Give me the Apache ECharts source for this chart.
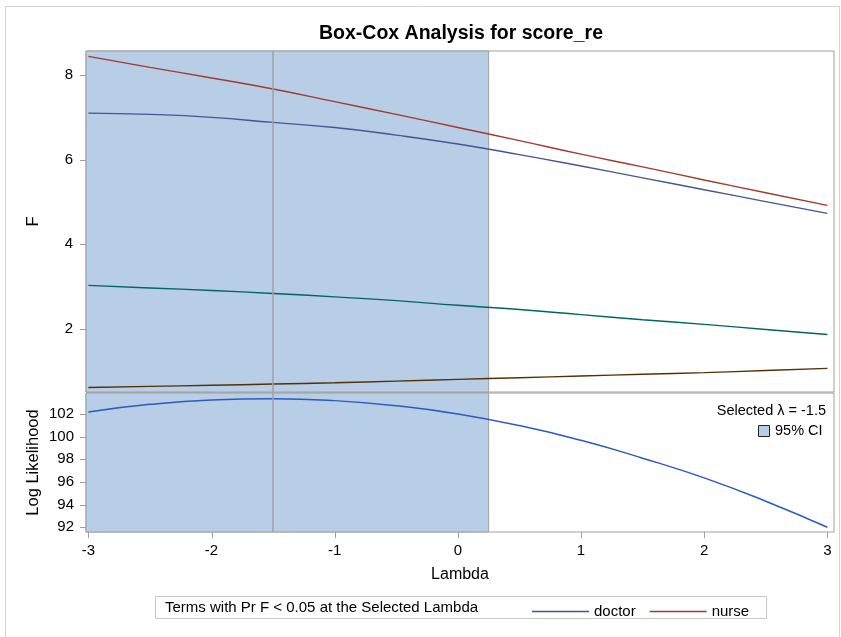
<!DOCTYPE html>
<html>
<head>
<meta charset="utf-8">
<script src="https://cdn.jsdelivr.net/npm/echarts@6/dist/echarts.min.js"></script>
<style>
html,body{margin:0;padding:0;background:#fff;}
#chart{width:841px;height:637px;}
</style>
</head>
<body>
<div id="chart"></div>
<script>
// ---- data ----
var lambda   = [-3, -2.5, -2, -1.5, -1, -0.5, 0, 0.5, 1, 1.5, 2, 2.5, 3];
var doctorF  = [7.10, 7.07, 7.00, 6.88, 6.76, 6.58, 6.37, 6.12, 5.85, 5.57, 5.29, 5.01, 4.73];
var nurseF   = [8.44, 8.18, 7.93, 7.67, 7.37, 7.07, 6.76, 6.45, 6.13, 5.83, 5.52, 5.22, 4.92];
var term3F   = [3.03, 2.97, 2.91, 2.84, 2.76, 2.67, 2.56, 2.46, 2.34, 2.22, 2.11, 1.99, 1.87];
var term4F   = [0.62, 0.645, 0.67, 0.70, 0.73, 0.77, 0.81, 0.85, 0.89, 0.93, 0.97, 1.02, 1.07];
var logLik   = [102.18, 102.85, 103.24, 103.35, 103.18, 102.73, 102.0, 100.98, 99.68, 98.1, 96.36, 94.3, 92.0];
var xTicks   = [-3, -2, -1, 0, 1, 2, 3];
var fTicks   = [2, 4, 6, 8];
var llTicks  = [92, 94, 96, 98, 100, 102];
var selectedLambda = -1.5;
var ciUpper = 0.25;
var titleText = 'Box-Cox Analysis for score_re';
var legendTitle = 'Terms with Pr F < 0.05 at the Selected Lambda';

// ---- chart ----
var FONT = '"Liberation Sans", Arial, sans-serif';
var X_MIN = -3.019, X_MAX = 3.054;
var F_MIN = 0.512, F_MAX = 8.567;
var LL_MIN = 91.585, LL_MAX = 103.853;
var CI_FILL = '#B8CDE6', BORDER = '#A0A0A0';
var TICK_LEN = 6;

function pairs(ys){ return lambda.map(function(x,i){ return [x, ys[i]]; }); }

var chart = echarts.init(document.getElementById('chart'), null, {renderer:'canvas'});

function refMarks(){
  return {
    markArea: {
      silent: true,
      itemStyle: {color: CI_FILL, borderColor: BORDER, borderWidth: 1},
      data: [[{xAxis: X_MIN}, {xAxis: ciUpper}]]
    },
    markLine: {
      silent: true, symbol: 'none', animation: false,
      label: {show: false},
      lineStyle: {color: BORDER, width: 1.5, type: 'solid'},
      data: [{xAxis: selectedLambda}]
    }
  };
}

// tick marks drawn through the axes' own scales
function yTickSeries(xIdx, yIdx, ticks){
  return {
    type: 'custom', xAxisIndex: xIdx, yAxisIndex: yIdx, silent: true, clip: false, z: 5,
    data: ticks.map(function(v){ return [X_MIN, v]; }),
    renderItem: function(params, api){
      var p = api.coord([api.value(0), api.value(1)]);
      var y = Math.round(p[1]) + 0.5;
      return {type: 'line', shape: {x1: p[0] - TICK_LEN, y1: y, x2: p[0], y2: y},
              style: {stroke: BORDER, lineWidth: 1}};
    }
  };
}
function xTickSeries(xIdx, yIdx, ticks, yBase){
  return {
    type: 'custom', xAxisIndex: xIdx, yAxisIndex: yIdx, silent: true, clip: false, z: 5,
    data: ticks.map(function(v){ return [v, yBase]; }),
    renderItem: function(params, api){
      var p = api.coord([api.value(0), api.value(1)]);
      var x = Math.round(p[0]) + 0.5;
      return {type: 'line', shape: {x1: x, y1: p[1], x2: x, y2: p[1] + TICK_LEN},
              style: {stroke: BORDER, lineWidth: 1}};
    }
  };
}

var bg0 = refMarks(), bg1 = refMarks();

var option = {
  animation: false,
  backgroundColor: '#fff',
  title: {
    text: titleText, left: 456, top: 19, textAlign: 'center',
    textStyle: {fontFamily: FONT, fontSize: 19.5, fontWeight: 'bold', color: '#000'}
  },
  grid: [
    {left: 86, right: 7, top: 51, height: 341, show: true, borderColor: BORDER, borderWidth: 1, backgroundColor: 'transparent'},
    {left: 86, right: 7, top: 393, height: 139, show: true, borderColor: BORDER, borderWidth: 1, backgroundColor: 'transparent'}
  ],
  xAxis: [
    {gridIndex: 0, type: 'value', min: X_MIN, max: X_MAX, axisLine: {show: false}, axisTick: {show: false}, axisLabel: {show: false}, splitLine: {show: false}},
    {gridIndex: 1, type: 'value', min: X_MIN, max: X_MAX,
     name: 'Lambda', nameLocation: 'middle', nameGap: 35,
     nameTextStyle: {fontFamily: FONT, fontSize: 16, color: '#000'},
     axisLine: {show: false},
     axisTick: {show: false},
     axisLabel: {show: true, fontFamily: FONT, fontSize: 15, color: '#000', margin: 11, customValues: xTicks},
     splitLine: {show: false}}
  ],
  yAxis: [
    {gridIndex: 0, type: 'value', min: F_MIN, max: F_MAX,
     name: 'F', nameLocation: 'middle', nameGap: 44, nameMoveOverlap: false,
     nameTextStyle: {fontFamily: FONT, fontSize: 16.5, color: '#000'},
     axisLine: {show: false}, axisTick: {show: false}, splitLine: {show: false},
     axisLabel: {show: true, fontFamily: FONT, fontSize: 15, color: '#000', margin: 13, customValues: fTicks}},
    {gridIndex: 1, type: 'value', min: LL_MIN, max: LL_MAX,
     name: 'Log Likelihood', nameLocation: 'middle', nameGap: 44, nameMoveOverlap: false,
     nameTextStyle: {fontFamily: FONT, fontSize: 16.5, color: '#000'},
     axisLine: {show: false}, axisTick: {show: false}, splitLine: {show: false},
     axisLabel: {show: true, fontFamily: FONT, fontSize: 15, color: '#000', margin: 12, customValues: llTicks}}
  ],
  legend: {
    data: ['doctor', 'nurse'],
    left: 527, top: 599,
    icon: 'rect', itemWidth: 57, itemHeight: 1.5, itemGap: 14,
    textStyle: {fontFamily: FONT, fontSize: 15, color: '#000'},
    selectedMode: false
  },
  series: [
    Object.assign({type: 'line', name: 'bg0', xAxisIndex: 0, yAxisIndex: 0, data: [], z: 1}, bg0),
    Object.assign({type: 'line', name: 'bg1', xAxisIndex: 1, yAxisIndex: 1, data: [], z: 1}, bg1),
    {type: 'line', name: 'term4', xAxisIndex: 0, yAxisIndex: 0, data: pairs(term4F), smooth: true, showSymbol: false, z: 3,
     lineStyle: {color: '#543005', width: 1.4}, itemStyle: {color: '#543005'}},
    {type: 'line', name: 'term3', xAxisIndex: 0, yAxisIndex: 0, data: pairs(term3F), smooth: true, showSymbol: false, z: 3,
     lineStyle: {color: '#01665E', width: 1.4}, itemStyle: {color: '#01665E'}},
    {type: 'line', name: 'doctor', xAxisIndex: 0, yAxisIndex: 0, data: pairs(doctorF), smooth: true, showSymbol: false, z: 3,
     lineStyle: {color: '#445694', width: 1.4}, itemStyle: {color: '#445694'}},
    {type: 'line', name: 'nurse', xAxisIndex: 0, yAxisIndex: 0, data: pairs(nurseF), smooth: true, showSymbol: false, z: 3,
     lineStyle: {color: '#A23A2E', width: 1.4}, itemStyle: {color: '#A23A2E'}},
    {type: 'line', name: 'Log Likelihood', xAxisIndex: 1, yAxisIndex: 1, data: pairs(logLik), smooth: true, showSymbol: false, z: 3,
     lineStyle: {color: '#2A5BBF', width: 1.5}, itemStyle: {color: '#2A5BBF'}},
    yTickSeries(0, 0, fTicks),
    yTickSeries(1, 1, llTicks),
    xTickSeries(1, 1, xTicks, LL_MIN)
  ],
  graphic: [
    {type: 'rect', silent: true, z: -10, shape: {x: 5.5, y: 6.5, width: 834, height: 640}, style: {fill: 'none', stroke: '#D3D3D3', lineWidth: 1}},
    {type: 'rect', silent: true, shape: {x: 155.5, y: 596.5, width: 611, height: 22}, style: {fill: '#fff', stroke: '#C8C8C8', lineWidth: 1}, z: -1},
    {type: 'text', silent: true, x: 165, y: 608, style: {text: legendTitle, fontFamily: FONT, fontSize: 15, fill: '#000', verticalAlign: 'middle', align: 'left'}},
    {type: 'text', silent: true, x: 826, y: 411, style: {text: 'Selected \u03bb = ' + selectedLambda, fontFamily: FONT, fontSize: 14.5, fill: '#000', verticalAlign: 'middle', align: 'right'}},
    {type: 'rect', silent: true, shape: {x: 758.5, y: 425.5, width: 11, height: 11}, style: {fill: CI_FILL, stroke: '#222', lineWidth: 1}, z: 10},
    {type: 'text', silent: true, x: 775, y: 431, style: {text: '95% CI', fontFamily: FONT, fontSize: 14.5, fill: '#000', verticalAlign: 'middle', align: 'left'}, z: 10}
  ]
};
chart.setOption(option);
</script>
</body>
</html>
